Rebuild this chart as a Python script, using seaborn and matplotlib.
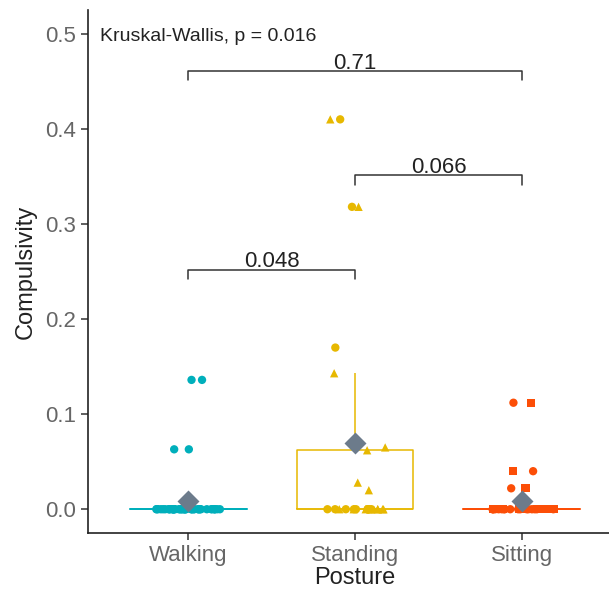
import numpy as np
import pandas as pd
import matplotlib
matplotlib.use("Agg")
import matplotlib.pyplot as plt
import seaborn as sns

# ---- data ----
categories = ["Walking", "Standing", "Sitting"]
colors = ["#00AFBB", "#E7B800", "#FC4E07"]

walking_vals = [0.136, 0.136, 0.063, 0.063] + [0.0] * 44
walking_shape = ["o"] * 48

standing_vals = [0.41, 0.41, 0.318, 0.318, 0.17, 0.143, 0.065, 0.062, 0.028, 0.02] + [0.0] * 18
standing_shape = ["^", "o", "o", "^", "o", "^", "^", "^", "^", "^"] + ["^"] * 9 + ["o"] * 9

sitting_vals = [0.112, 0.112, 0.04, 0.04, 0.022, 0.022] + [0.0] * 34
sitting_shape = ["s", "o", "o", "s", "o", "s"] + ["o"] * 17 + ["s"] * 17

kw_label = "Kruskal-Wallis, p = 0.016"
pair_groups = [(0, 1), (1, 2), (0, 2)]
pair_labels = ["0.048", "0.066", "0.71"]
pair_heights = [0.252, 0.351, 0.461]

df = pd.DataFrame({
    "Posture": ["Walking"] * len(walking_vals) + ["Standing"] * len(standing_vals) + ["Sitting"] * len(sitting_vals),
    "Compulsivity": walking_vals + standing_vals + sitting_vals,
    "shape": walking_shape + standing_shape + sitting_shape,
})

# ---- figure ----
sns.set_style("white")
plt.rcParams["font.family"] = ["Liberation Sans", "DejaVu Sans"]

fig = plt.figure(figsize=(6.09, 6.01), dpi=100)
ax = fig.add_axes([88 / 609, (601 - 533) / 601, 534 / 609, 523 / 601])

pal = dict(zip(categories, colors))

sns.boxplot(data=df, x="Posture", y="Compulsivity", order=categories, hue="Posture",
            hue_order=categories, palette=pal, fill=False, width=0.7, showfliers=False,
            linewidth=1.1, capprops={"linewidth": 0}, legend=False, ax=ax)

np.random.seed(3)
for m in ["o", "^", "s"]:
    sub = df[df["shape"] == m]
    if len(sub) == 0:
        continue
    sns.stripplot(data=sub, x="Posture", y="Compulsivity", order=categories, hue="Posture",
                  hue_order=categories, palette=pal, marker=m, jitter=0.2, size=6,
                  linewidth=0, legend=False, ax=ax, zorder=3)

# mean diamonds
means = df.groupby("Posture")["Compulsivity"].mean().reindex(categories)
sns.pointplot(x=categories, y=means.values, order=categories, linestyle="none",
              marker="D", markersize=9, color="#6C7B8B", errorbar=None, ax=ax, zorder=4)

# brackets
for (a, b), lab, h in zip(pair_groups, pair_labels, pair_heights):
    ax.plot([a, a, b, b], [h - 0.01, h, h, h - 0.01], color="#333333", lw=1.1)
    ax.text((a + b) / 2, h - 0.003, lab, ha="center", va="bottom", fontsize=16, color="#222222")

ax.text(-0.53, 0.497, kw_label, ha="left", va="center", fontsize=14, color="#222222")

ax.set_xlim(-0.6, 2.6)
ax.set_ylim(-0.025, 0.525)
ax.set_yticks([0.0, 0.1, 0.2, 0.3, 0.4, 0.5])
ax.set_yticklabels(["0.0", "0.1", "0.2", "0.3", "0.4", "0.5"])
ax.set_xlabel("Posture", fontsize=17, color="#222222", labelpad=1)
ax.set_ylabel("Compulsivity", fontsize=17, color="#222222", labelpad=6)
ax.tick_params(axis="both", labelsize=16, labelcolor="#666666", color="#333333",
               length=5, width=1.1, direction="out", left=True, bottom=True)
for s in ["top", "right"]:
    ax.spines[s].set_visible(False)
for s in ["left", "bottom"]:
    ax.spines[s].set_color("#222222")
    ax.spines[s].set_linewidth(1.2)

fig.savefig("out.png", dpi=100)
